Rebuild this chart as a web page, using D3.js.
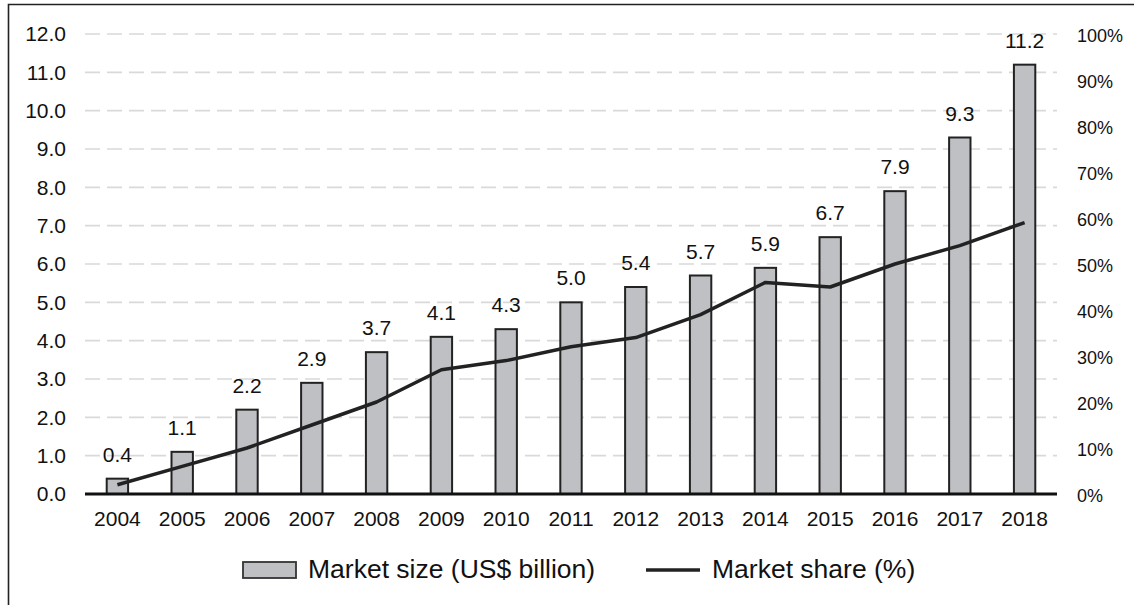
<!DOCTYPE html>
<html><head><meta charset="utf-8">
<script src="https://cdn.jsdelivr.net/npm/d3@7"></script>
<style>body{margin:0;background:#fff;} text{font-family:"Liberation Sans",Arial,sans-serif;fill:#111;}</style>
</head><body><svg id="c" width="1134" height="605"></svg>
<script>
const years = ["2004","2005","2006","2007","2008","2009","2010","2011","2012","2013","2014","2015","2016","2017","2018"];
const marketSize = [0.4,1.1,2.2,2.9,3.7,4.1,4.3,5.0,5.4,5.7,5.9,6.7,7.9,9.3,11.2];
const marketShare = [2,6,10,15,20,27,29,32,34,39,46,45,50,54,59];
const leftTicks = [0,1,2,3,4,5,6,7,8,9,10,11,12];
const rightTicks = [0,10,20,30,40,50,60,70,80,90,100];
const legendLabels = ["Market size (US$ billion)","Market share (%)"];

const svg = d3.select("#c");
const L = 85, R = 1057, T = 34, B = 494;
const x = d3.scaleBand().domain(years).range([L, R]).paddingInner(0.67).paddingOuter(0.335);
const y = d3.scaleLinear().domain([0, 12]).range([B, T]);
const y2 = d3.scaleLinear().domain([0, 100]).range([B, T]);
const FF = "Liberation Sans, Arial, sans-serif";

// frame
svg.append("path").attr("d", `M8.5,605 V4.5 H1134`).attr("fill","none").attr("stroke","#222").attr("stroke-width",1.6);

// gridlines
svg.append("g").selectAll("line").data(leftTicks.filter(d=>d>0)).join("line")
  .attr("x1", L).attr("x2", R).attr("y1", d=>y(d)).attr("y2", d=>y(d))
  .attr("stroke","#d9d9d9").attr("stroke-width",1.6).attr("stroke-dasharray","15,7");

// left axis labels
const ax = d3.axisLeft(y).tickValues(leftTicks).tickFormat(d3.format(".1f")).tickSize(0).tickPadding(0);
const gl = svg.append("g").attr("transform",`translate(66,0)`).call(ax);
gl.select(".domain").remove();
gl.selectAll("text").attr("font-size",21).attr("fill","#111").attr("font-family",FF);

const ar = d3.axisRight(y2).tickValues(rightTicks).tickFormat(d=>d+"%").tickSize(0).tickPadding(0);
const gr = svg.append("g").attr("transform",`translate(1077,0)`).call(ar);
gr.select(".domain").remove();
gr.selectAll("text").attr("font-size",18).attr("dy","0.4em").attr("fill","#111").attr("font-family",FF);

// bars
svg.append("g").selectAll("rect").data(years).join("rect")
  .attr("x", d=>x(d)).attr("width", x.bandwidth())
  .attr("y", (d,i)=>y(marketSize[i])).attr("height",(d,i)=>B - y(marketSize[i]))
  .attr("fill","#bfc0c4").attr("stroke","#222").attr("stroke-width",2);

// bar labels
svg.append("g").selectAll("text").data(years).join("text")
  .attr("x", d=>x(d)+x.bandwidth()/2).attr("y",(d,i)=>y(marketSize[i])-17)
  .attr("text-anchor","middle").attr("font-size",21)
  .text((d,i)=>marketSize[i].toFixed(1));

// baseline
svg.append("line").attr("x1",L).attr("x2",R).attr("y1",B).attr("y2",B).attr("stroke","#111").attr("stroke-width",3);

// x axis labels
const axb = d3.axisBottom(x).tickSize(0).tickPadding(0);
const gb = svg.append("g").attr("transform",`translate(0,${B+17})`).call(axb);
gb.select(".domain").remove();
gb.selectAll("text").attr("font-size",21).attr("fill","#111").attr("font-family",FF);

// line
const line = d3.line().x((d,i)=>x(years[i])+x.bandwidth()/2).y(d=>y2(d));
svg.append("path").datum(marketShare).attr("d",line).attr("fill","none")
  .attr("stroke","#222").attr("stroke-width",3.5).attr("stroke-linejoin","round");

// legend
const lg = svg.append("g");
lg.append("rect").attr("x",243).attr("y",562).attr("width",53).attr("height",16)
  .attr("fill","#bfc0c4").attr("stroke","#333").attr("stroke-width",1.8);
lg.append("text").attr("x",308).attr("y",578).attr("font-size",26.5).text(legendLabels[0]);
lg.append("line").attr("x1",646).attr("x2",700).attr("y1",570).attr("y2",570).attr("stroke","#222").attr("stroke-width",3.5);
lg.append("text").attr("x",712).attr("y",578).attr("font-size",26.5).text(legendLabels[1]);
</script></body></html>
